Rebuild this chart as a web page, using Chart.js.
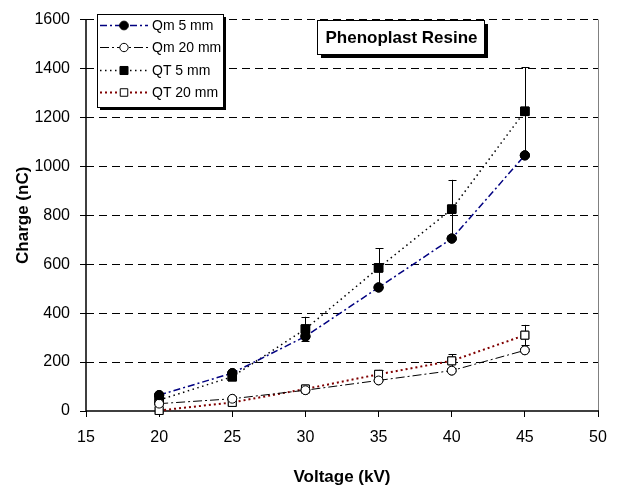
<!DOCTYPE html>
<html>
<head>
<meta charset="utf-8">
<script src="https://cdn.jsdelivr.net/npm/chart.js@4/dist/chart.umd.min.js"></script>
<style>
  html, body { margin: 0; padding: 0; background: #ffffff; }
  #wrap { width: 621px; height: 491px; position: relative; }
</style>
</head>
<body>
<div id="wrap"><canvas id="c" width="621" height="491"></canvas></div>
<script>
// ---- Data ----
const voltage = [20, 25, 30, 35, 40, 45];
const qm5  = [65, 155, 305, 505, 705, 1045];
const qm20 = [30, 50, 85, 125, 165, 248];
const qt5  = [45, 140, 335, 585, 825, 1225];
const qt20 = [2, 35, 90, 150, 205, 310];
const qt5Err  = [15, 15, 50, 80, 120, 180];
const qt20Err = [8, 8, 12, 18, 28, 42];
const seriesNames = ['Qm 5 mm', 'Qm 20 mm', 'QT 5 mm', 'QT 20 mm'];
const chartTitle = 'Phenoplast Resine';
const xTitle = 'Voltage (kV)';
const yTitle = 'Charge (nC)';

const FONT = "'Liberation Sans', Arial, sans-serif";
const pts = arr => voltage.map((v, i) => ({x: v, y: arr[i]}));

const errorBars = {
  id: 'errorBars',
  afterDatasetsDraw(chart) {
    const {ctx, scales: {x, y}} = chart;
    const sets = [[2, qt5Err], [3, qt20Err]];
    ctx.save();
    ctx.strokeStyle = '#000';
    ctx.lineWidth = 1;
    ctx.setLineDash([]);
    sets.forEach(([di, errs]) => {
      const vals = chart.data.datasets[di].data;
      vals.forEach((p, i) => {
        const px = Math.round(x.getPixelForValue(p.x)) + 0.5;
        const yt = y.getPixelForValue(p.y + errs[i]);
        const yb = y.getPixelForValue(p.y - errs[i]);
        ctx.beginPath();
        ctx.moveTo(px, yt); ctx.lineTo(px, yb);
        ctx.moveTo(px - 4, Math.round(yt) + 0.5); ctx.lineTo(px + 4, Math.round(yt) + 0.5);
        ctx.moveTo(px - 4, Math.round(yb) + 0.5); ctx.lineTo(px + 4, Math.round(yb) + 0.5);
        ctx.stroke();
      });
    });
    ctx.restore();
    // redraw markers on top of error bars
    chart.getSortedVisibleDatasetMetas().slice().reverse().forEach(meta => {
      meta.data.forEach(el => el.draw(ctx, undefined));
    });
  }
};

const decorations = {
  id: 'decorations',
  beforeDatasetsDraw(chart) {
    const {ctx, chartArea: a} = chart;
    ctx.save();
    ctx.setLineDash([]);
    // right frame line
    ctx.strokeStyle = '#808080';
    ctx.lineWidth = 1;
    ctx.beginPath();
    ctx.moveTo(a.right + 0.5, a.top);
    ctx.lineTo(a.right + 0.5, a.bottom);
    ctx.stroke();
    // axis lines
    ctx.strokeStyle = '#000';
    ctx.lineWidth = 1.5;
    ctx.beginPath();
    ctx.moveTo(a.left, a.top);
    ctx.lineTo(a.left, a.bottom);
    ctx.lineTo(a.right + 1, a.bottom);
    ctx.stroke();
    ctx.restore();
  },
  afterDraw(chart) {
    const {ctx} = chart;
    ctx.save();
    // Title box
    const tb = {x: 317, y: 20, w: 167, h: 34};
    ctx.fillStyle = '#000';
    ctx.fillRect(tb.x + 4, tb.y + 4, tb.w, tb.h);
    ctx.fillStyle = '#fff';
    ctx.fillRect(tb.x, tb.y, tb.w, tb.h);
    ctx.strokeStyle = '#000';
    ctx.lineWidth = 1;
    ctx.strokeRect(tb.x + 0.5, tb.y + 0.5, tb.w, tb.h);
    ctx.fillStyle = '#000';
    ctx.font = 'bold 17px ' + FONT;
    ctx.textAlign = 'center';
    ctx.textBaseline = 'middle';
    ctx.fillText(chartTitle, tb.x + tb.w / 2 + 1, tb.y + tb.h / 2 + 1);

    // Legend box
    const lb = {x: 97, y: 14, w: 126, h: 93};
    ctx.fillStyle = '#000';
    ctx.fillRect(lb.x + 3, lb.y + 3, lb.w, lb.h);
    ctx.fillStyle = '#fff';
    ctx.fillRect(lb.x, lb.y, lb.w, lb.h);
    ctx.strokeStyle = '#000';
    ctx.strokeRect(lb.x + 0.5, lb.y + 0.5, lb.w, lb.h);
    const rows = [25, 47, 70, 92];
    ctx.font = '14px ' + FONT;
    ctx.textAlign = 'left';
    ctx.textBaseline = 'middle';
    chart.data.datasets.forEach((ds, i) => {
      const yy = rows[i] + 0.5;
      ctx.save();
      ctx.strokeStyle = ds.borderColor;
      ctx.lineWidth = ds.borderWidth;
      ctx.setLineDash(ds.borderDash || []);
      ctx.beginPath();
      ctx.moveTo(100, yy); ctx.lineTo(148, yy);
      ctx.stroke();
      ctx.restore();
      ctx.save();
      ctx.fillStyle = ds.pointBackgroundColor;
      ctx.strokeStyle = ds.pointBorderColor;
      ctx.lineWidth = 1;
      Chart.helpers.drawPoint(ctx, {pointStyle: ds.pointStyle, radius: ds.pointRadius * 0.95, borderWidth: 1, rotation: 0}, 124, yy);
      ctx.restore();
      ctx.fillStyle = '#000';
      ctx.fillText(ds.label, 152, rows[i] + 1);
    });
    ctx.restore();
  }
};

new Chart(document.getElementById('c'), {
  type: 'scatter',
  data: {
    datasets: [
      { label: seriesNames[0], data: pts(qm5), showLine: true,
        borderColor: '#000080', borderWidth: 1.5, borderDash: [7, 3, 2, 3],
        pointStyle: 'circle', pointRadius: 4.6, pointBackgroundColor: '#000', pointBorderColor: '#000', pointBorderWidth: 1 },
      { label: seriesNames[1], data: pts(qm20), showLine: true,
        borderColor: '#000000', borderWidth: 1, borderDash: [9, 3, 2, 3],
        pointStyle: 'circle', pointRadius: 4.4, pointBackgroundColor: '#fff', pointBorderColor: '#000', pointBorderWidth: 1 },
      { label: seriesNames[2], data: pts(qt5), showLine: true,
        borderColor: '#000000', borderWidth: 1.5, borderDash: [1.5, 3.5],
        pointStyle: 'rect', pointRadius: 6, pointBackgroundColor: '#000', pointBorderColor: '#000', pointBorderWidth: 1 },
      { label: seriesNames[3], data: pts(qt20), showLine: true,
        borderColor: '#800000', borderWidth: 2, borderDash: [2, 3],
        pointStyle: 'rect', pointRadius: 5.6, pointBackgroundColor: '#fff', pointBorderColor: '#000', pointBorderWidth: 1 }
    ]
  },
  options: {
    responsive: false,
    animation: false,
    devicePixelRatio: 1,
    clip: false,
    layout: { padding: { left: 0, top: 13, right: 23, bottom: 0 } },
    plugins: { legend: { display: false }, tooltip: { enabled: false } },
    elements: { line: { tension: 0 } },
    scales: {
      x: {
        type: 'linear', min: 15, max: 50,
        afterFit: s => { s.height = 80; },
        ticks: { stepSize: 5, color: '#000', font: { family: FONT, size: 16 }, padding: 11, maxRotation: 0,
                 callback: v => String(v) },
        grid: { drawOnChartArea: false, drawTicks: true, tickLength: 6, tickColor: '#000', lineWidth: 1 },
        border: { display: false },
        title: { display: true, text: xTitle, color: '#000', font: { family: FONT, size: 17, weight: 'bold' }, padding: { top: 0, bottom: 3 } }
      },
      y: {
        type: 'linear', min: 0, max: 1600,
        afterFit: s => { s.width = 86; },
        ticks: { stepSize: 200, color: '#000', font: { family: FONT, size: 16 }, padding: 10,
                 callback: v => String(v) },
        grid: { color: ctx => (ctx.tick && ctx.tick.value === 0) ? 'rgba(0,0,0,0)' : '#000',
                lineWidth: 1, drawTicks: true, tickLength: 6, tickColor: '#000', tickBorderDash: [] },
        border: { display: false, dash: [8, 5] },
        title: { display: true, text: yTitle, color: '#000', font: { family: FONT, size: 17, weight: 'bold' }, padding: { top: 13, bottom: 0 } }
      }
    }
  },
  plugins: [errorBars, decorations]
});
</script>
</body>
</html>
